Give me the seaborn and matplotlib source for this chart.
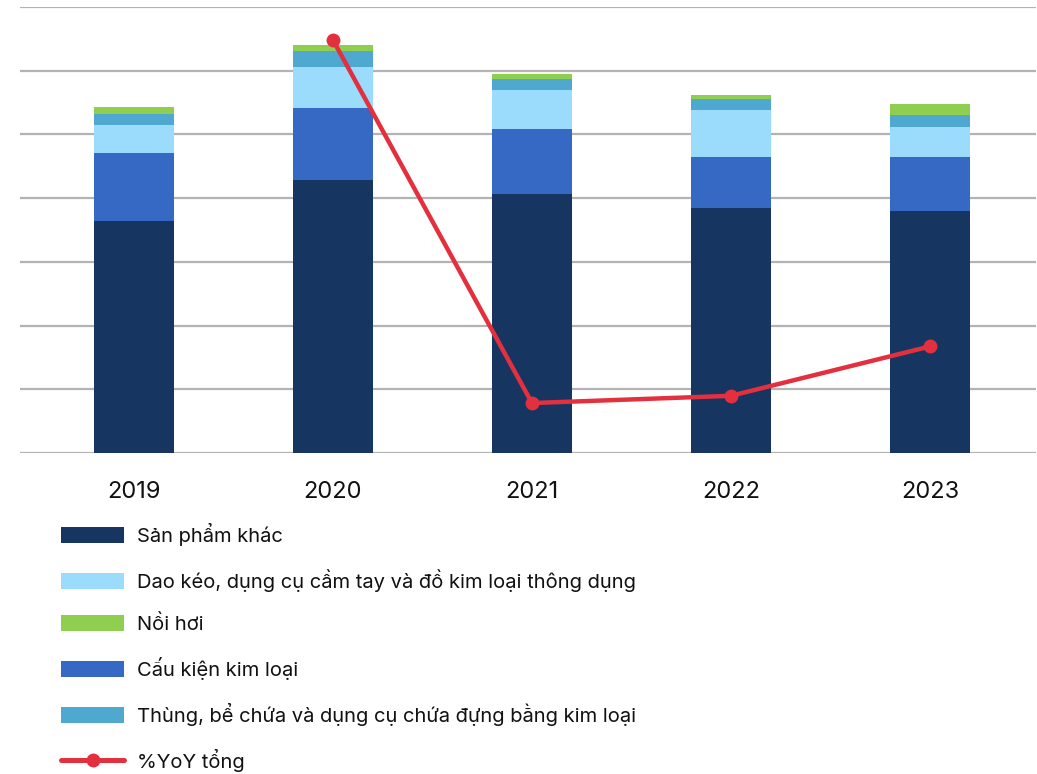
import numpy as np
import pandas as pd
import matplotlib
matplotlib.use("Agg")
import matplotlib.pyplot as plt
import seaborn as sns
from matplotlib.patches import Patch
from matplotlib.lines import Line2D

# ---- data ----
years = ["2019", "2020", "2021", "2022", "2023"]
san_pham_khac = [3.64, 4.29, 4.07, 3.85, 3.80]
cau_kien = [1.07, 1.13, 1.02, 0.80, 0.85]
dao_keo = [0.44, 0.64, 0.61, 0.74, 0.47]
thung_be = [0.17, 0.25, 0.17, 0.17, 0.19]
noi_hoi = [0.11, 0.09, 0.08, 0.06, 0.16]
yoy_years = ["2020", "2021", "2022", "2023"]
yoy_total = [18.0, -7.0, -6.5, -3.1]

labels = {
    "spk": "Sản phẩm khác",
    "dk": "Dao kéo, dụng cụ cầm tay và đồ kim loại thông dụng",
    "nh": "Nồi hơi",
    "ck": "Cấu kiện kim loại",
    "tb": "Thùng, bể chứa và dụng cụ chứa đựng bằng kim loại",
    "yoy": "%YoY tổng",
}
colors = {
    "spk": "#163561",
    "ck": "#3569C4",
    "dk": "#9BDBFC",
    "tb": "#4FA8CF",
    "nh": "#8FCE4F",
    "yoy": "#E3303F",
}

sns.set_theme(style="white")
plt.rcParams["font.family"] = ["Inter", "DejaVu Sans"]

fig = plt.figure(figsize=(10.37, 7.74), dpi=100)
ax = fig.add_axes([20 / 1037, 1 - 453 / 774, 1016 / 1037, 446 / 774])

# stacking order bottom -> top
stack = [("spk", san_pham_khac), ("ck", cau_kien), ("dk", dao_keo),
         ("tb", thung_be), ("nh", noi_hoi)]
cum = np.zeros(len(years))
cums = []
for key, vals in stack:
    cum = cum + np.array(vals)
    cums.append((key, cum.copy()))

# draw tallest first so smaller cumulative bars overlay
for key, c in reversed(cums):
    df = pd.DataFrame({"year": years, "val": c})
    sns.barplot(data=df, x="year", y="val", color=colors[key], width=0.40,
                saturation=1, ax=ax, zorder=2, linewidth=0, edgecolor="none")

ax.set_ylim(0, 7)
ax.set_yticks(np.arange(0, 8, 1))
ax.yaxis.grid(True, color="#b3b3b3", linewidth=1.6)
ax.xaxis.grid(False)
ax.set_axisbelow(True)
ax.set_xlim(-0.573, 4.533)
for s in ax.spines.values():
    s.set_visible(False)
ax.set_yticklabels([])
ax.tick_params(axis="y", length=0)
ax.tick_params(axis="x", length=0, pad=20, labelsize=17, labelcolor="#111111")
ax.set_xlabel("")
ax.set_ylabel("")

ax2 = ax.twinx()
ydf = pd.DataFrame({"x": [years.index(y) for y in yoy_years], "v": yoy_total})
sns.lineplot(data=ydf, x="x", y="v", color=colors["yoy"], linewidth=3.2,
             marker="o", markersize=10, markeredgewidth=0, ax=ax2, zorder=5)
ax2.set_ylim(-10.44, 20.28)
ax2.set_xlim(-0.573, 4.533)
ax2.set_yticks([])
ax2.set_ylabel("")
ax2.set_xlabel("")
for s in ax2.spines.values():
    s.set_visible(False)

handles = [
    Patch(facecolor=colors["spk"], edgecolor="none"),
    Patch(facecolor=colors["dk"], edgecolor="none"),
    Patch(facecolor=colors["nh"], edgecolor="none"),
    Patch(facecolor=colors["ck"], edgecolor="none"),
    Patch(facecolor=colors["tb"], edgecolor="none"),
    Line2D([0], [0], color=colors["yoy"], linewidth=3.6, marker="o", markersize=10,
           markeredgewidth=0),
]
leg_labels = [labels["spk"], labels["dk"], labels["nh"], labels["ck"], labels["tb"], labels["yoy"]]
fig.legend(handles, leg_labels, loc="upper left",
           bbox_to_anchor=(61 / 1037, 1 - 523 / 774), frameon=False,
           fontsize=14.5, handlelength=3.13, handleheight=0.85,
           handletextpad=0.65, labelspacing=1.14, borderpad=0, borderaxespad=0,
           labelcolor="#111111")

fig.savefig("out.png", dpi=100)
